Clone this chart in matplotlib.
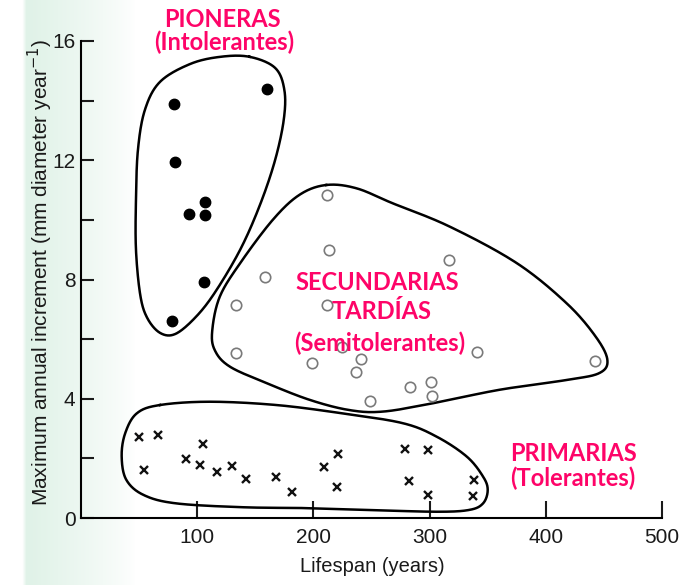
import numpy as np
import matplotlib
matplotlib.use('Agg')
import matplotlib.pyplot as plt

# --- data ---
pioneer_x = [80, 160, 81, 93, 107, 107, 106, 78]
pioneer_y = [13.9, 14.4, 11.95, 10.2, 10.6, 10.17, 7.93, 6.6]

secondary_x = [212, 213, 317, 158, 133, 212, 133, 199, 241, 237, 225,
               341, 442, 283, 301, 302, 249]
secondary_y = [10.84, 9.0, 8.66, 8.08, 7.16, 7.16, 5.54, 5.21, 5.35, 4.89, 5.75,
               5.58, 5.27, 4.38, 4.57, 4.1, 3.94]

primary_x = [50, 66, 54, 105, 90, 102, 117, 130, 142, 168, 182, 209, 221, 220,
             279, 299, 282, 299, 338, 337]
primary_y = [2.71, 2.80, 1.60, 2.49, 1.98, 1.79, 1.54, 1.74, 1.32, 1.36, 0.87,
             1.72, 2.14, 1.03, 2.30, 2.27, 1.24, 0.76, 1.28, 0.73]

# envelope outlines drawn around each group (data units)
pioneer_env = [(145, 15.47), (167, 15.10), (175, 14.36), (174.5, 13.36), (167, 12.0),
               (154, 10.5), (137, 9.0), (115, 7.55), (98, 6.71), (81, 6.17),
               (68, 6.21), (57, 6.71), (51, 7.48), (47.3, 9.0), (47.3, 10.67),
               (49, 12.35), (55, 13.69), (68, 14.63), (94, 15.23), (120, 15.47)]
secondary_env = [(211, 11.17), (237, 11.06), (268, 10.56), (317, 9.78), (375, 8.55),
                 (418, 7.2), (443, 6.08), (453, 5.3), (446, 4.86), (418, 4.63),
                 (360, 4.3), (303, 3.85), (260, 3.57), (231, 3.62), (197, 3.96),
                 (160, 4.52), (128, 5.08), (115, 5.64), (113, 6.31), (119.5, 7.43),
                 (137, 8.55), (165, 10.0), (188, 10.84)]
primary_env = [(68, 3.79), (111, 3.90), (168, 3.79), (225, 3.51), (277, 3.18),
               (306, 2.73), (332, 2.06), (346, 1.39), (350, 0.94), (346, 0.49),
               (334, 0.27), (306, 0.21), (248, 0.27), (197, 0.33), (140, 0.36),
               (82, 0.49), (54, 0.77), (39, 1.28), (35, 2.06), (38, 2.84), (48, 3.51)]

xticks = [100, 200, 300, 400, 500]
yticks = [0, 4, 8, 12, 16]
yticks_minor = [2, 6, 10, 14]

PINK = '#fe0468'
AXFONT = ['Liberation Sans', 'DejaVu Sans']


def closed_spline(pts, ratio=25.6, n=30):
    # periodic Catmull-Rom, computed in roughly pixel-proportional units
    p = np.array(pts, dtype=float)
    p[:, 1] *= ratio
    m = len(p)
    out = []
    t = np.linspace(0, 1, n, endpoint=False)[:, None]
    for i in range(m):
        p0, p1, p2, p3 = p[i - 1], p[i], p[(i + 1) % m], p[(i + 2) % m]
        seg = 0.5 * ((2 * p1) + (-p0 + p2) * t + (2 * p0 - 5 * p1 + 4 * p2 - p3) * t**2
                     + (-p0 + 3 * p1 - 3 * p2 + p3) * t**3)
        out.append(seg)
    out = np.vstack(out + [out[0][:1]])
    out[:, 1] /= ratio
    return out[:, 0], out[:, 1]


fig = plt.figure(figsize=(6.97, 5.85), dpi=100)

# pale green strip of the scanned page on the left
bg = fig.add_axes([0, 0, 1, 1], zorder=-5)
bg.axis('off')
xs = np.linspace(0, 1, 697)
fade = np.clip((xs * 697 - 22) / 4, 0, 1) * np.clip((135 - xs * 697) / 105, 0, 1) ** 0.8
grad = np.ones((10, 697, 3))
for c, v in enumerate([0.88, 0.95, 0.91]):
    grad[:, :, c] = 1 - (1 - v) * fade
bg.imshow(grad, extent=[0, 1, 0, 1], aspect='auto')
bg.set_xlim(0, 1)
bg.set_ylim(0, 1)

ax = fig.add_axes([81 / 697, 1 - 518 / 585, 581 / 697, 477 / 585])
ax.patch.set_alpha(0)
ax.set_xlim(0, 500)
ax.set_ylim(0, 16)

for env in [pioneer_env, secondary_env, primary_env]:
    ex, ey = closed_spline(env)
    ax.plot(ex, ey, color='black', lw=1.8, clip_on=False)

ax.plot(pioneer_x, pioneer_y, 'o', color='black', ms=7.5, clip_on=False)
ax.plot(secondary_x, secondary_y, 'o', mfc='white', mec='#7a7a7a', mew=1.2, ms=7.5,
        clip_on=False)
ax.plot(primary_x, primary_y, 'x', color='#111111', ms=6, mew=1.7, clip_on=False)

for s in ['top', 'right']:
    ax.spines[s].set_visible(False)
for s in ['left', 'bottom']:
    ax.spines[s].set_linewidth(1.5)
ax.spines['bottom'].set_bounds(0, 500)
ax.spines['left'].set_bounds(0, 16)

ax.set_xticks(xticks)
ax.set_yticks(yticks)
ax.set_yticks(yticks_minor, minor=True)
ax.tick_params(axis='both', which='both', direction='in', width=1.5, colors='#1a1a1a')
ax.tick_params(axis='x', length=12, pad=7)
ax.tick_params(axis='y', which='major', length=9, pad=4)
ax.tick_params(axis='y', which='minor', length=9)
for lab in ax.get_xticklabels() + ax.get_yticklabels():
    lab.set_family(AXFONT)
    lab.set_fontsize(15)

fig.text(372 / 697, 1 - 572 / 585, 'Lifespan (years)', ha='center', va='baseline',
         family=AXFONT, fontsize=14.5, color='#1a1a1a')
fig.text(40 / 697, 1 - 272 / 585, r'Maximum annual increment (mm diameter year$^{-1}$)',
         rotation=90, ha='center', va='center', family=AXFONT, fontsize=15,
         color='#1a1a1a')

labels = [
    ('PIONERAS', 222.5, 27), ('(Intolerantes)', 224, 50),
    ('SECUNDARIAS', 377.5, 290.5), ('TARDÍAS', 381.5, 319.5), ('(Semitolerantes)', 380, 351.5),
    ('PRIMARIAS', 573, 461), ('(Tolerantes)', 572.5, 486),
]
for txt, px, py in labels:
    fig.text(px / 697, 1 - py / 585, txt, ha='center', va='baseline', color=PINK,
             family=['Lato', 'DejaVu Sans'], fontweight='bold', fontsize=17)

fig.savefig('out.png', dpi=100)
